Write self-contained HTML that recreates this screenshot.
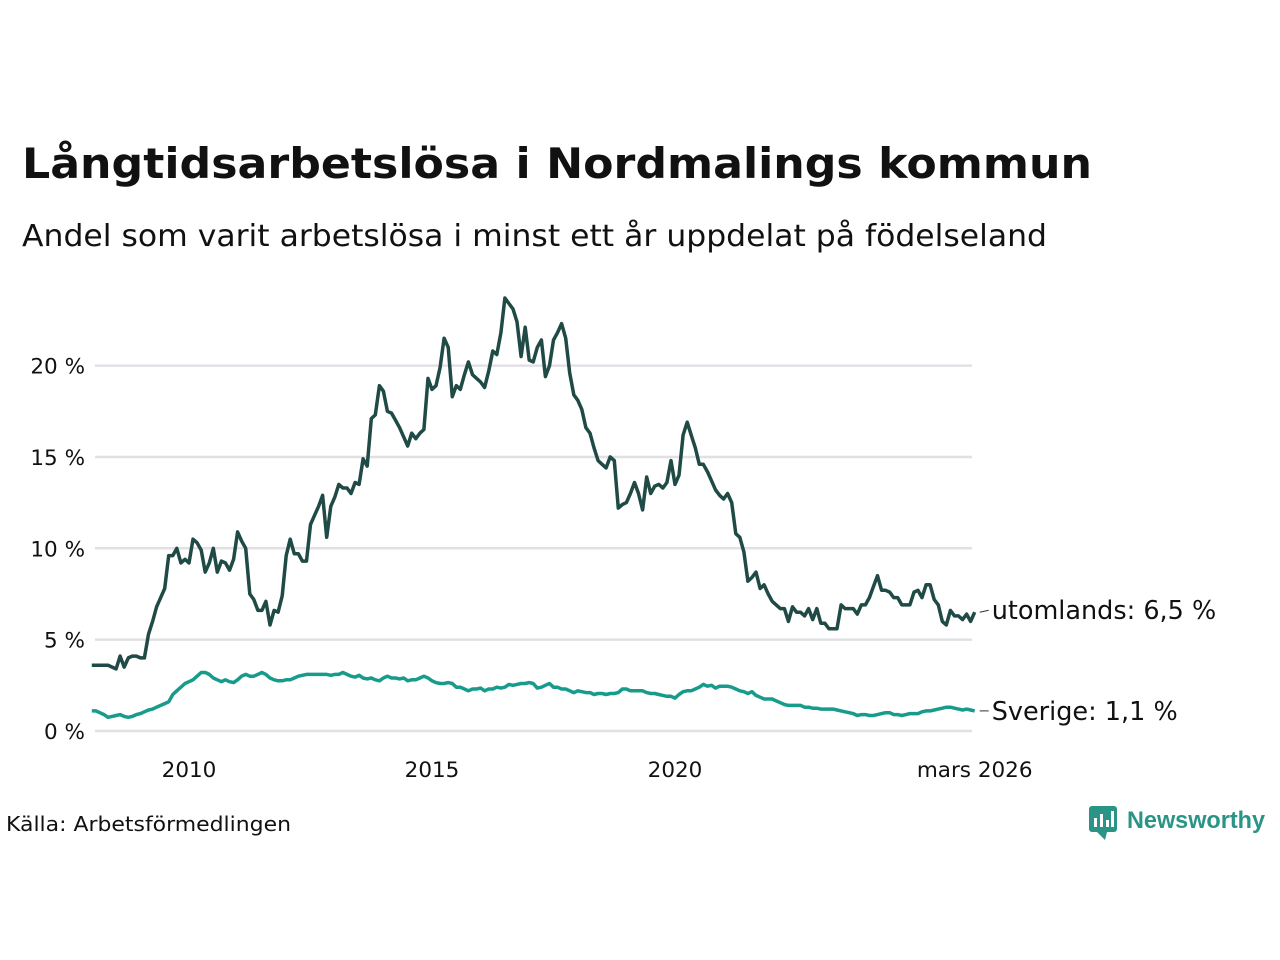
<!DOCTYPE html>
<html><head><meta charset="utf-8"><style>
body{margin:0;background:#fff;font-family:"DejaVu Sans","Liberation Sans",sans-serif;}
#wrap{position:relative;width:1280px;height:960px;overflow:hidden;}
</style></head><body>
<div id="wrap">
<svg id="svg" width="1280" height="960" font-family="DejaVu Sans, Liberation Sans, sans-serif">
<text x="22" y="178" font-size="42" font-weight="bold" fill="#111" textLength="1070" lengthAdjust="spacingAndGlyphs">Långtidsarbetslösa i Nordmalings kommun</text>
<text x="22" y="246" font-size="30" fill="#111" textLength="1025" lengthAdjust="spacingAndGlyphs">Andel som varit arbetslösa i minst ett år uppdelat på födelseland</text>
<g id="grid"></g><g id="lines"></g><g id="labels"></g>
<text x="6" y="831" font-size="20" fill="#111" textLength="285" lengthAdjust="spacingAndGlyphs">Källa: Arbetsförmedlingen</text>
<g>
<rect x="1089" y="806" width="28" height="26" rx="3" fill="#2a9486"/>
<polygon points="1097,832 1105,840 1107,832" fill="#2a9486"/>
<rect x="1094" y="818" width="3" height="9" fill="#fff"/><rect x="1100" y="814" width="3" height="13" fill="#fff"/><rect x="1106" y="820" width="3" height="7" fill="#fff"/><rect x="1111" y="811" width="3" height="16" fill="#fff"/>
<text x="1127" y="828" font-size="24" font-weight="bold" fill="#2a9486" textLength="138" lengthAdjust="spacingAndGlyphs" font-family="Liberation Sans, sans-serif">Newsworthy</text>
</g>
</svg></div>
<script>
const yTicks=[0,5,10,15,20];
const yTickLabels=["0 %","5 %","10 %","15 %","20 %"];
const xTicks=[2010,2015,2020];
const xTickLabels=["2010","2015","2020"];
const startYear=2008;
const utomlands=[3.6,3.6,3.6,3.6,3.6,3.5,3.4,4.1,3.5,4.0,4.1,4.1,
4.0,4.0,5.3,6.0,6.8,7.3,7.8,9.6,9.6,10.0,9.2,9.4,
9.2,10.5,10.3,9.9,8.7,9.2,10.0,8.7,9.3,9.2,8.8,9.4,
10.9,10.4,10.0,7.5,7.2,6.6,6.6,7.1,5.8,6.6,6.5,7.4,
9.6,10.5,9.7,9.7,9.3,9.3,11.3,11.8,12.3,12.9,10.6,12.3,
12.8,13.5,13.3,13.3,13.0,13.6,13.5,14.9,14.5,17.1,17.3,18.9,
18.6,17.5,17.4,17.0,16.6,16.1,15.6,16.3,16.0,16.3,16.5,19.3,
18.7,18.9,19.9,21.5,21.0,18.3,18.9,18.7,19.5,20.2,19.5,19.3,
19.1,18.8,19.7,20.8,20.6,21.8,23.7,23.4,23.1,22.4,20.5,22.1,
20.3,20.2,21.0,21.4,19.4,20.0,21.4,21.8,22.3,21.5,19.6,18.4,
18.1,17.6,16.6,16.3,15.5,14.8,14.6,14.4,15.0,14.8,12.2,12.4,
12.5,13.0,13.6,13.0,12.1,13.9,13.0,13.4,13.5,13.3,13.6,14.8,
13.5,14.0,16.2,16.9,16.2,15.5,14.6,14.6,14.2,13.7,13.2,12.9,
12.7,13.0,12.5,10.8,10.6,9.8,8.2,8.4,8.7,7.8,8.0,7.5,
7.1,6.9,6.7,6.7,6.0,6.8,6.5,6.5,6.3,6.7,6.1,6.7,
5.9,5.9,5.6,5.6,5.6,6.9,6.7,6.7,6.7,6.4,6.9,6.9,
7.3,7.9,8.5,7.7,7.7,7.6,7.3,7.3,6.9,6.9,6.9,7.6,
7.7,7.3,8.0,8.0,7.2,6.9,6.0,5.8,6.6,6.3,6.3,6.1,
6.4,6.0,6.5];
const sverige=[1.1,1.1,1.0,0.9,0.75,0.8,0.85,0.9,0.8,0.75,0.8,0.9,
0.95,1.05,1.15,1.2,1.3,1.4,1.5,1.6,2.0,2.2,2.4,2.6,
2.7,2.8,3.0,3.2,3.2,3.1,2.9,2.8,2.7,2.8,2.7,2.65,
2.8,3.0,3.1,3.0,3.0,3.1,3.2,3.1,2.9,2.8,2.75,2.75,
2.8,2.8,2.9,3.0,3.05,3.1,3.1,3.1,3.1,3.1,3.1,3.05,
3.1,3.1,3.2,3.1,3.0,2.95,3.05,2.9,2.85,2.9,2.8,2.75,
2.9,3.0,2.9,2.9,2.85,2.9,2.75,2.8,2.8,2.9,3.0,2.9,
2.75,2.65,2.6,2.6,2.65,2.6,2.4,2.4,2.3,2.2,2.3,2.3,
2.35,2.2,2.3,2.3,2.4,2.35,2.4,2.55,2.5,2.55,2.6,2.6,
2.65,2.6,2.35,2.4,2.5,2.6,2.4,2.4,2.3,2.3,2.2,2.1,
2.2,2.15,2.1,2.1,2.0,2.05,2.05,2.0,2.05,2.05,2.1,2.3,
2.3,2.2,2.2,2.2,2.2,2.1,2.05,2.05,2.0,1.95,1.9,1.9,
1.8,2.0,2.15,2.2,2.2,2.3,2.4,2.55,2.45,2.5,2.35,2.45,
2.45,2.45,2.4,2.3,2.2,2.15,2.05,2.15,1.95,1.85,1.75,1.75,
1.75,1.65,1.55,1.45,1.4,1.4,1.4,1.4,1.3,1.3,1.25,1.25,
1.2,1.2,1.2,1.2,1.15,1.1,1.05,1.0,0.95,0.85,0.9,0.9,
0.85,0.85,0.9,0.95,1.0,1.0,0.9,0.9,0.85,0.9,0.95,0.95,
0.95,1.05,1.1,1.1,1.15,1.2,1.25,1.3,1.3,1.25,1.2,1.15,
1.2,1.15,1.1];
const seriesLabels=["utomlands: 6,5 %","Sverige: 1,1 %"];
const endLabel="mars 2026";

const NS="http://www.w3.org/2000/svg";
const X=t=>189+(t-2010)*48.6;
const Y=v=>731-v*18.27;
const tOf=i=>startYear+i/12;
function mk(tag,attrs,parent,txt){const e=document.createElementNS(NS,tag);for(const k in attrs)e.setAttribute(k,attrs[k]);if(txt!==undefined)e.textContent=txt;parent.appendChild(e);return e;}
const grid=document.getElementById('grid'),lines=document.getElementById('lines'),labels=document.getElementById('labels');
const last=utomlands.length-1;
yTicks.forEach((v,i)=>{
 const l=mk('line',{x1:95,x2:972,y1:Y(v),y2:Y(v),stroke:'#e2e0e6','stroke-width':2.5},grid);
 
 
 const t=mk('text',{x:85,y:Y(v)+8,'font-size':21.5,'text-anchor':'end',fill:'#111'},labels,yTickLabels[i]);
 
 
});
xTicks.forEach((v,i)=>{
 const t=mk('text',{x:X(v),y:777,'font-size':21.5,'text-anchor':'middle',fill:'#111'},labels,xTickLabels[i]);
 
 
});
const et=mk('text',{x:X(tOf(last)),y:777,'font-size':21.5,'text-anchor':'middle',fill:'#111'},labels,endLabel);


function line(data,color,name,label,dy){
 const d=data.map((v,i)=>(i?'L':'M')+X(tOf(i)).toFixed(1)+','+Y(v).toFixed(1)).join('');
 const p=mk('path',{d:d,fill:'none',stroke:color,'stroke-width':3.5,'stroke-linejoin':'round'},lines);
 
 
 const ex=X(tOf(data.length-1)),ey=Y(data[data.length-1]);
 const ly=ey+dy;
 mk('line',{x1:ex+5,y1:ey,x2:ex+14,y2:ly,stroke:'#333','stroke-width':1},labels);
 const t=mk('text',{x:ex+17,y:ly+9,'font-size':25.5,fill:'#111'},labels,label);
 
 
}
line(utomlands,'#1f4a45','line-utomlands',seriesLabels[0],-2);
line(sverige,'#179b8a','line-sverige',seriesLabels[1],0);
</script>
</body></html>
